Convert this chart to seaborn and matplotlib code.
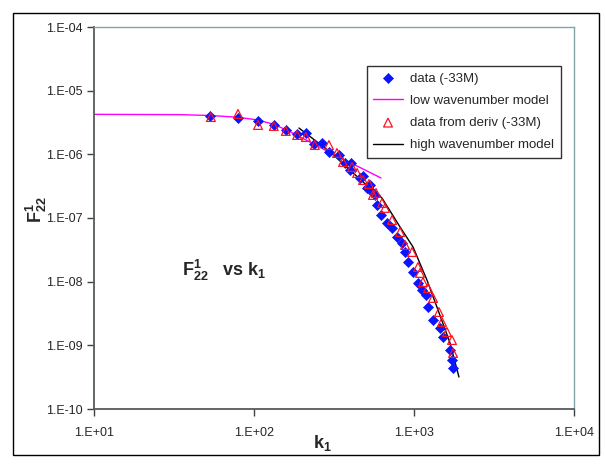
import numpy as np
import pandas as pd
import seaborn as sns
import matplotlib.pyplot as plt
from matplotlib.ticker import NullLocator, FuncFormatter
from matplotlib.patches import Rectangle

# --- values ---
data_k = [53.1, 79.4, 106, 133, 158, 186, 211, 237, 266, 294, 340, 370, 404, 398,
          460, 480, 516, 531, 570, 531, 508, 587, 622, 678, 729, 783, 841, 879,
          917, 986, 1059, 1122, 1189, 1223, 1315, 1454, 1518, 1679, 1728, 1754]
data_F = [4.0e-6, 3.73e-6, 3.34e-6, 2.89e-6, 2.41e-6, 2.08e-6, 2.16e-6, 1.45e-6,
          1.51e-6, 1.09e-6, 9.77e-7, 7.31e-7, 7.31e-7, 5.68e-7, 4.25e-7, 4.57e-7,
          3.07e-7, 2.75e-7, 2.30e-7, 3.30e-7, 2.96e-7, 1.60e-7, 1.11e-7, 8.35e-8,
          6.97e-8, 5.03e-8, 4.05e-8, 2.93e-8, 2.04e-8, 1.42e-8, 9.53e-9, 7.40e-9,
          6.18e-9, 4.00e-9, 2.50e-9, 1.87e-9, 1.35e-9, 8.45e-10, 5.89e-10, 4.41e-10]

deriv_k = [53.8, 79.4, 106, 133, 158, 186, 211, 240, 294, 330, 360, 410, 441, 480,
           523, 579, 554, 631, 659, 729, 818, 879, 972, 1059, 1090, 1138, 1223,
           1315, 1432, 1496, 1607, 1728, 1754]
deriv_F = [3.85e-6, 4.31e-6, 2.89e-6, 2.79e-6, 2.33e-6, 2.01e-6, 1.87e-6, 1.40e-6,
           1.40e-6, 1.05e-6, 7.59e-7, 6.33e-7, 5.09e-7, 3.95e-7, 3.42e-7, 2.47e-7,
           2.30e-7, 1.72e-7, 1.44e-7, 9.31e-8, 6.03e-8, 3.77e-8, 2.92e-8, 1.70e-8,
           1.37e-8, 9.88e-9, 7.96e-9, 5.55e-9, 3.34e-9, 2.33e-9, 1.62e-9, 1.21e-9,
           7.59e-10]

low_k = [10, 34.5, 53.8, 79.4, 106, 133, 168, 224, 345, 460, 622]
low_F = [4.25e-6, 4.2e-6, 4.07e-6, 3.82e-6, 3.46e-6, 2.96e-6, 2.27e-6, 1.56e-6,
         8.77e-7, 6.21e-7, 4.25e-7]

high_k = [191, 299, 480, 631, 818, 986, 1205, 1413, 1679, 1910]
high_F = [2.59e-6, 1.09e-6, 3.68e-7, 2.06e-7, 7.23e-8, 3.51e-8, 1.06e-8, 3.59e-9,
          1.09e-9, 3.18e-10]

y_ticks = [1e-10, 1e-9, 1e-8, 1e-7, 1e-6, 1e-5, 1e-4]
x_ticks = [1e1, 1e2, 1e3, 1e4]

sns.set_style("white")
plt.rcParams['font.family'] = ['Liberation Sans', 'DejaVu Sans']
plt.rcParams['mathtext.fontset'] = 'custom'
plt.rcParams['mathtext.rm'] = 'Liberation Sans'
plt.rcParams['mathtext.it'] = 'Liberation Sans'
plt.rcParams['mathtext.bf'] = 'Liberation Sans:bold'

fig = plt.figure(figsize=(6.05, 4.66), dpi=100)
ax = fig.add_axes([94 / 605, 1 - 409 / 466, 480 / 605, 382 / 466])

df_data = pd.DataFrame({"k": data_k, "F": data_F})
df_deriv = pd.DataFrame({"k": deriv_k, "F": deriv_F})
df_low = pd.DataFrame({"k": low_k, "F": low_F})
df_high = pd.DataFrame({"k": high_k, "F": high_F})

ax.set_xscale("log")
ax.set_yscale("log")

sns.lineplot(data=df_low, x="k", y="F", ax=ax, color="#ff00ff", lw=1.0,
             sort=False, estimator=None, label="low wavenumber model", zorder=2)
sns.lineplot(data=df_high, x="k", y="F", ax=ax, color="black", lw=1.0,
             sort=False, estimator=None, label="high wavenumber model", zorder=2)
sns.scatterplot(data=df_data, x="k", y="F", ax=ax, marker="D", s=26,
                color="#0a14ff", edgecolor="#0a14ff", linewidth=0.5,
                label="data (-33M)", zorder=3)
sns.scatterplot(data=df_deriv, x="k", y="F", ax=ax, marker="^", s=40,
                facecolor="none", edgecolor="#ff1020", linewidth=0.9,
                label="data from deriv (-33M)", zorder=4)

ax.set_xlim(10, 1e4)
ax.set_ylim(1e-10, 1e-4)
ax.set_xticks(x_ticks)
ax.set_yticks(y_ticks)
ax.xaxis.set_minor_locator(NullLocator())
ax.yaxis.set_minor_locator(NullLocator())

def sci_fmt(v, pos):
    e = int(round(np.log10(v)))
    return "1.E%s%02d" % ("+" if e >= 0 else "-", abs(e))

ax.xaxis.set_major_formatter(FuncFormatter(sci_fmt))
ax.yaxis.set_major_formatter(FuncFormatter(sci_fmt))
ax.tick_params(axis="both", which="major", direction="out", length=5, width=1,
               color="#404040", labelsize=9, bottom=True, left=True, pad=3)
ax.tick_params(axis="x", pad=8)

for side in ["left", "bottom"]:
    ax.spines[side].set_color("#555b5b")
    ax.spines[side].set_linewidth(1.3)
for side in ["top", "right"]:
    ax.spines[side].set_color("#82a4a8")
    ax.spines[side].set_linewidth(1.0)

ax.set_xlabel(r"$\mathbf{k_1}$", fontsize=13)
ax.xaxis.set_label_coords(0.475, -0.062)
ax.set_ylabel(r"$\mathbf{F^1_{22}}$", fontsize=13)
ax.yaxis.set_label_coords(-0.094, 0.523)

ax.text(0.183, 0.364, r"$\mathbf{F^1_{22}\ \ \ vs\ k_1}$", transform=ax.transAxes,
        fontsize=13, va="center", ha="left")

h, l = ax.get_legend_handles_labels()
order = ["data (-33M)", "low wavenumber model", "data from deriv (-33M)",
         "high wavenumber model"]
hl = dict(zip(l, h))
leg = ax.legend([hl[o] for o in order], order, loc="upper right",
                bbox_to_anchor=(0.973, 0.898), borderaxespad=0, fontsize=9.5,
                frameon=True, fancybox=False, edgecolor="black",
                handlelength=2.2, labelspacing=0.75, borderpad=0.5,
                handletextpad=0.6)
leg.get_frame().set_linewidth(1.0)

fig.patches.append(Rectangle((13 / 605, 1 - 455 / 466), 586 / 605, 442 / 466,
                             transform=fig.transFigure, fill=False,
                             edgecolor="black", lw=1.0))

fig.set_facecolor("white")
plt.savefig("out.png", dpi=100)
plt.close(fig)
